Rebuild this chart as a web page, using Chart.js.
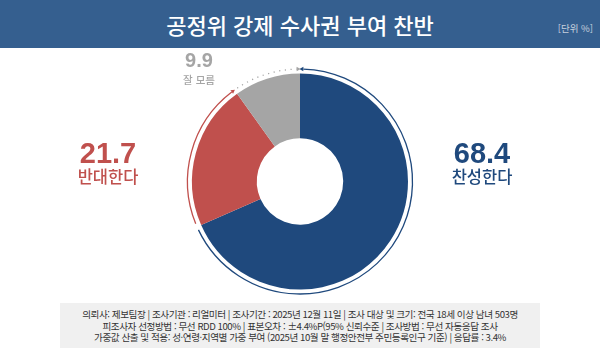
<!DOCTYPE html>
<html lang="ko">
<head>
<meta charset="utf-8">
<script src="https://cdn.jsdelivr.net/npm/chart.js@4/dist/chart.umd.min.js"></script>
<style>
  html, body { margin: 0; padding: 0; background: #ffffff; }
  #wrap { position: relative; width: 600px; height: 348px; overflow: hidden; font-family: "Noto Sans CJK KR", "Noto Sans", sans-serif; }
  #band { position: absolute; left: 0; top: 0; width: 600px; height: 48px; background: #355f8f; }
  #title { position: absolute; left: 0; top: 0; width: 600px; height: 48px; line-height: 48px; text-align: center; color: #ffffff; font-size: 22px; font-weight: 500; }
  #unit { position: absolute; right: 7px; top: 21px; font-size: 9.5px; color: #c6d0de; }
  #foot { position: absolute; left: 60px; top: 303px; width: 480px; height: 45px; background: #f0f0f0; }
  #foot div { position: absolute; left: 0; width: 480px; text-align: center; font-size: 9.6px; color: #333333; white-space: nowrap; letter-spacing: -0.45px; }
  .lbl { position: absolute; text-align: center; transform: translate(-50%, 0); white-space: nowrap; }
  .num { font-family: "Liberation Sans", Arial, sans-serif; font-weight: bold; }
  .cat { font-family: "Noto Sans CJK KR", sans-serif; font-weight: 500; }
  canvas { position: absolute; left: 0; top: 0; }
</style>
</head>
<body>
<div id="wrap">
  <div id="band"></div>
  <div id="title"></div>
  <div id="unit"></div>
  <div id="foot"></div>
  <canvas id="c" width="600" height="348"></canvas>
</div>
<script>
// ---- data ----
const titleText = "공정위 강제 수사권 부여 찬반";
const unitText = "[단위 %]";
const categories = ["찬성한다", "반대한다", "잘 모름"];
const values = [68.4, 21.7, 9.9];
const colors = ["#1f497d", "#c0504d", "#a5a5a5"];
const footnotes = [
  "의뢰사: 제보팀장 | 조사기관 : 리얼미터 | 조사기간 : 2025년 12월 11일 | 조사 대상 및 크기: 전국 18세 이상 남녀 503명",
  "피조사자 선정방법 : 무선 RDD 100% | 표본오차 : ±4.4%P(95% 신뢰수준 | 조사방법 : 무선 자동응답 조사",
  "가중값 산출 및 적용: 성·연령·지역별 가중 부여 (2025년 10월 말 행정안전부 주민등록인구 기준) | 응답률 : 3.4%"
];

// ---- static text ----
document.getElementById("title").textContent = titleText;
document.getElementById("unit").textContent = unitText;
const foot = document.getElementById("foot");
footnotes.forEach((t, i) => {
  const d = document.createElement("div");
  d.textContent = t;
  d.style.top = (4 + i * 11.5) + "px";
  foot.appendChild(d);
});

// label layout (position/style only)
const labelLayout = [
  { x: 482, yNum: 137, yCat: 167, numSize: 29, catSize: 16.5 },
  { x: 108, yNum: 137, yCat: 167, numSize: 29, catSize: 16.5 },
  { x: 199, yNum: 49, yCat: 74, numSize: 20, catSize: 10.5 }
];
const wrap = document.getElementById("wrap");
categories.forEach((c, i) => {
  const L = labelLayout[i];
  const n = document.createElement("div");
  n.className = "lbl num";
  n.textContent = values[i].toFixed(1);
  n.style.left = L.x + "px"; n.style.top = L.yNum + "px";
  n.style.fontSize = L.numSize + "px"; n.style.color = colors[i];
  n.style.lineHeight = "1.15";
  wrap.appendChild(n);
  const k = document.createElement("div");
  k.className = "lbl cat";
  k.textContent = c;
  k.style.left = L.x + "px"; k.style.top = L.yCat + "px";
  k.style.fontSize = L.catSize + "px"; k.style.color = colors[i];
  k.style.lineHeight = "1.2";
  wrap.appendChild(k);
});

// ---- outer ring plugin ----
const ringPlugin = {
  id: "ring",
  afterDatasetsDraw(chart) {
    const ctx = chart.ctx;
    const meta = chart.getDatasetMeta(0);
    meta.data.forEach((arc, i) => {
      const p = arc.getProps(["x", "y", "startAngle", "endAngle", "outerRadius"], true);
      const r = p.outerRadius + 4.5;
      const gap = 0.03;
      const a0 = p.startAngle + gap, a1 = p.endAngle - gap;
      ctx.save();
      ctx.strokeStyle = colors[i];
      ctx.fillStyle = colors[i];
      ctx.lineWidth = 1.3;
      if (i === 2) ctx.setLineDash([1.2, 4.5]);
      ctx.beginPath();
      ctx.arc(p.x, p.y, r, a0, a1);
      ctx.stroke();
      ctx.setLineDash([]);
      const head = (a, dir) => {
        const px = p.x + r * Math.cos(a), py = p.y + r * Math.sin(a);
        const tx = -Math.sin(a) * dir, ty = Math.cos(a) * dir;
        const nx = Math.cos(a), ny = Math.sin(a);
        ctx.beginPath();
        ctx.moveTo(px + tx * 4, py + ty * 4);
        ctx.lineTo(px + nx * 2.2, py + ny * 2.2);
        ctx.lineTo(px - nx * 2.2, py - ny * 2.2);
        ctx.closePath();
        ctx.fill();
      };
      if (i === 0) head(a0, -1); else head(a1, 1);
      ctx.restore();
    });
  }
};

new Chart(document.getElementById("c"), {
  type: "doughnut",
  data: {
    labels: categories,
    datasets: [{ data: values, backgroundColor: colors, borderWidth: 0, hoverOffset: 0 }]
  },
  options: {
    responsive: false,
    animation: false,
    cutout: "40%",
    layout: { padding: { top: 73.5, bottom: 58.5, left: 192, right: 192 } },
    plugins: { legend: { display: false }, tooltip: { enabled: false } }
  },
  plugins: [ringPlugin]
});
</script>
</body>
</html>
